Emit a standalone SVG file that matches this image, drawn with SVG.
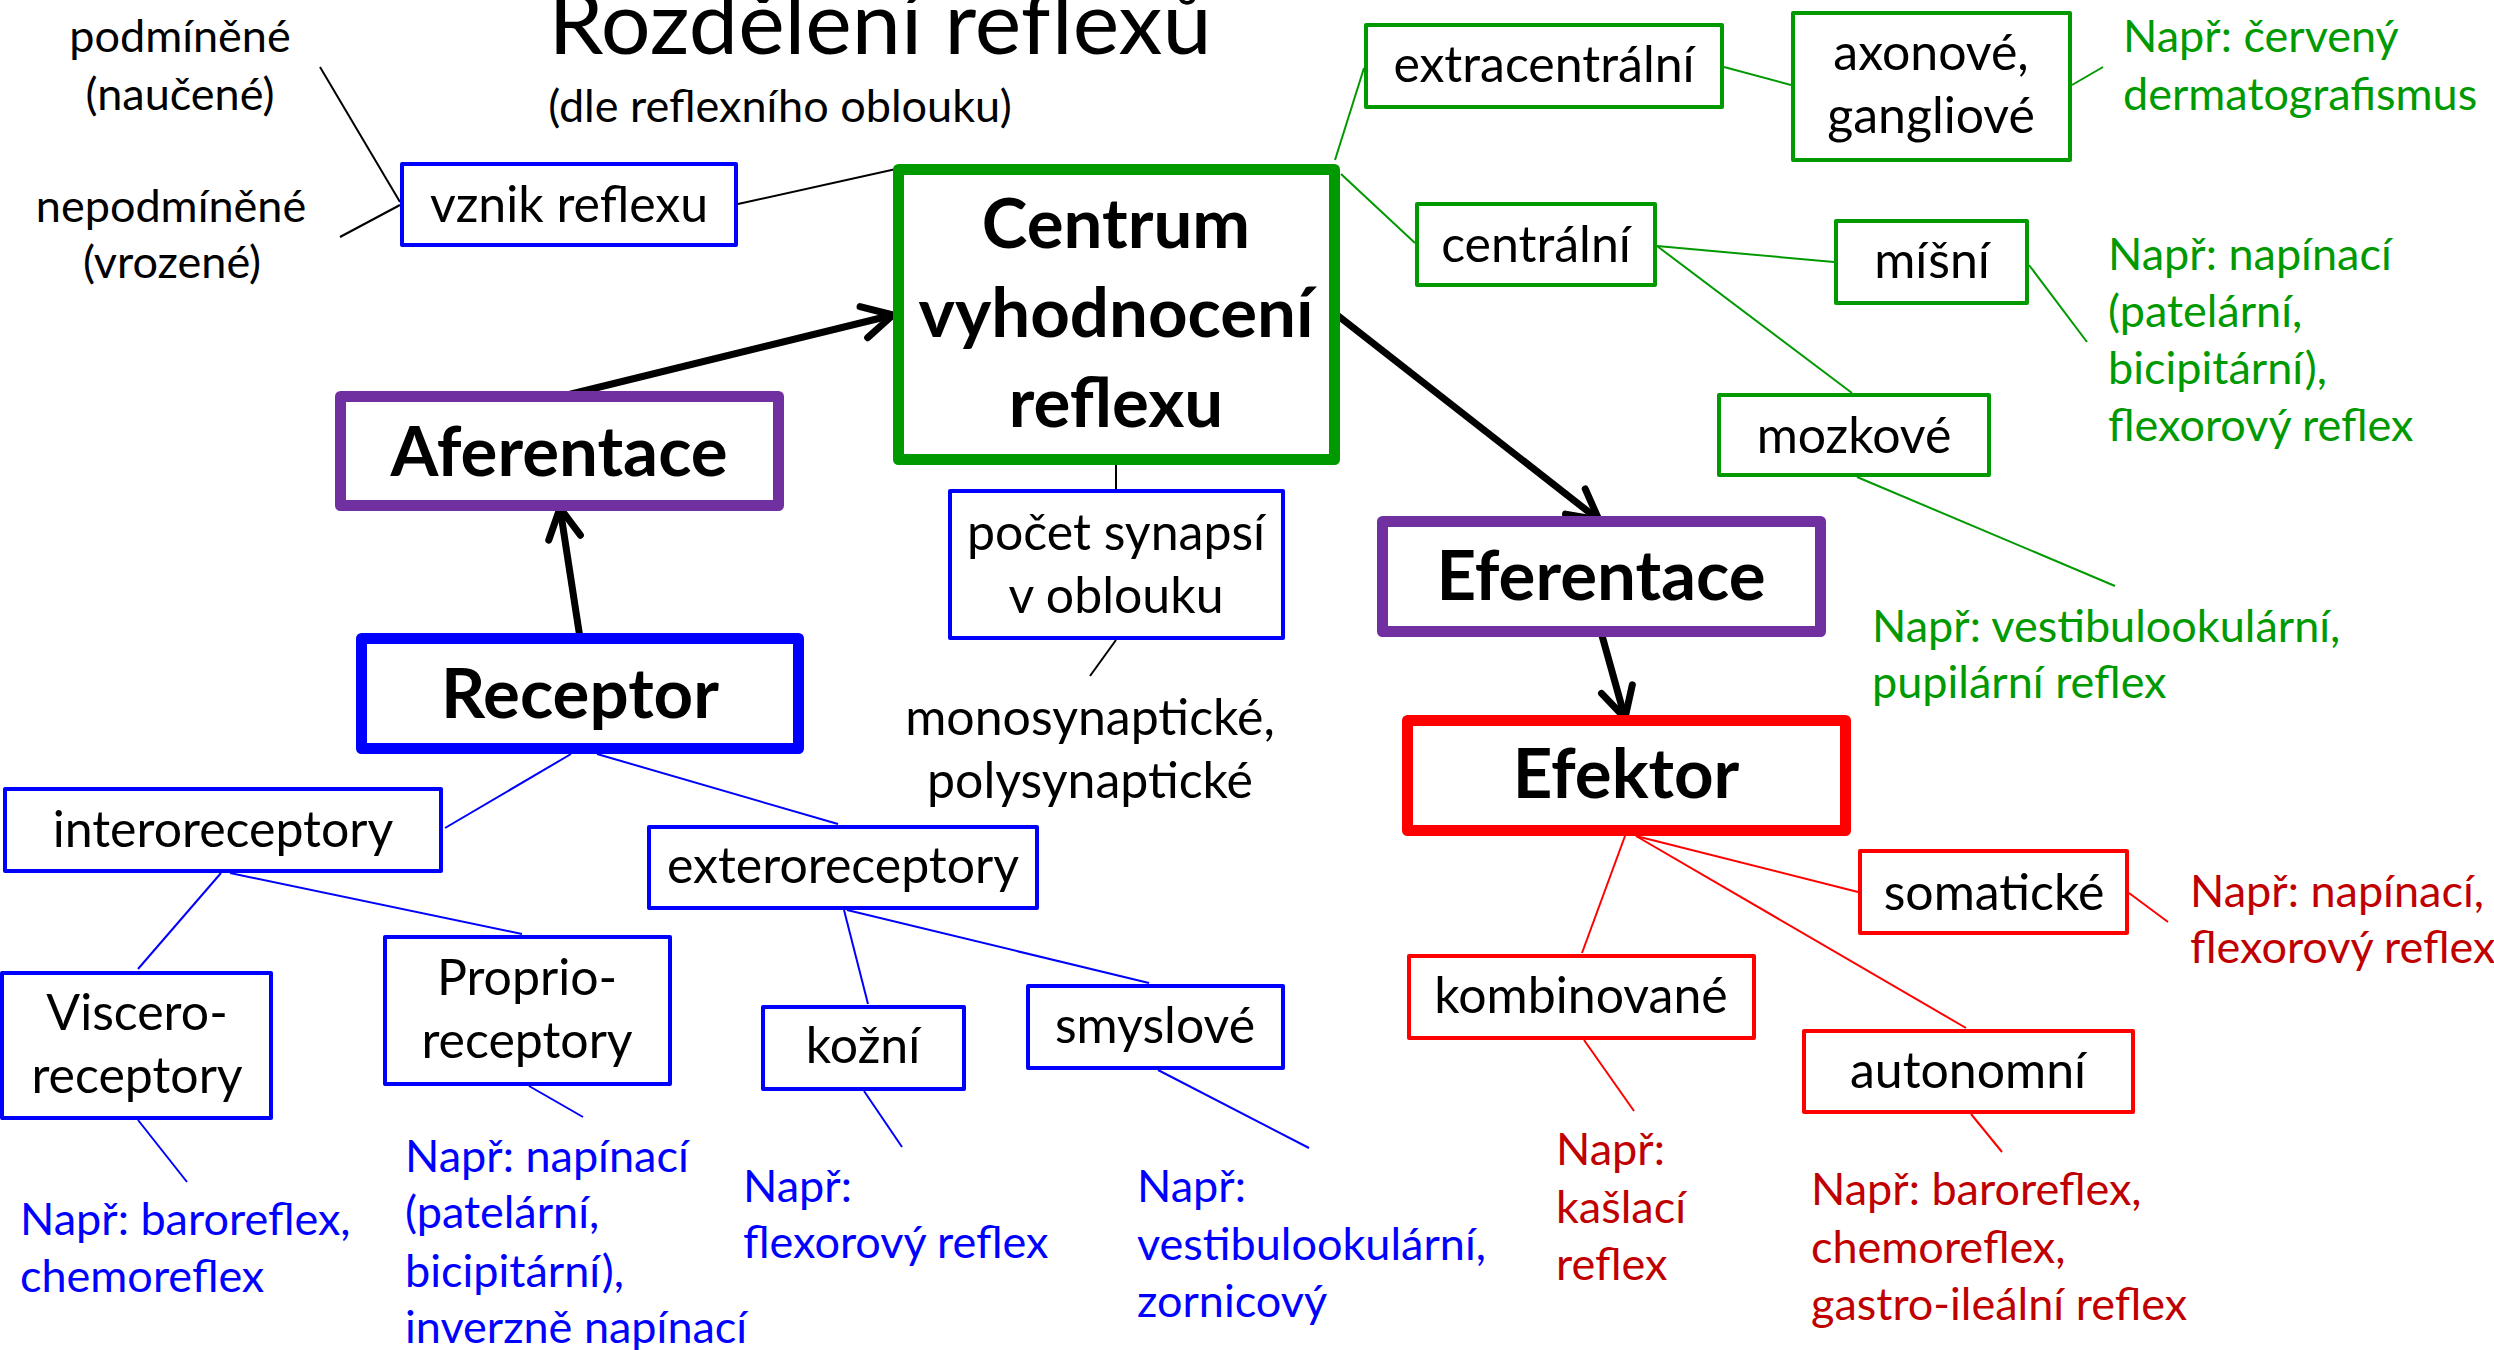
<svg xmlns="http://www.w3.org/2000/svg" width="2494" height="1350" viewBox="0 0 2494 1350">
<style>
text{font-family:Lato,"Liberation Sans",sans-serif;}
.t{font-size:50px;fill:#000;text-anchor:middle;}
.a{font-size:45px;}
.m{text-anchor:middle;}
.b{font-size:69px;font-weight:bold;fill:#000;text-anchor:middle;}
.g{fill:#009900;} .bl{fill:#0000FF;} .r{fill:#C00000;} .k{fill:#000;}
.bx{fill:#fff;stroke-width:4;stroke-linejoin:round;}
.hv{fill:#fff;stroke-width:11;stroke-linejoin:round;}
.sg{stroke:#009900;} .sb{stroke:#0000FF;} .sr{stroke:#FF0000;} .sp{stroke:#7030A0;}
.c line{stroke-width:2;}
.arr line{stroke:#000;stroke-width:7;marker-end:url(#ah);}
</style>
<defs>
<marker id="ah" markerUnits="userSpaceOnUse" viewBox="-40 -25 50 50" markerWidth="50" markerHeight="50" refX="0" refY="0" orient="auto" overflow="visible">
<path d="M-30,-16 L0,0 L-30,16" fill="none" stroke="#000" stroke-width="7" stroke-linecap="round" stroke-linejoin="round"/>
</marker>
</defs>
<rect width="2494" height="1350" fill="#fff"/>
<g id="title">
<text x="880" y="54" class="m" style="font-size:88px" fill="#000">Rozdělení reflexů</text>
<text x="780" y="122" class="a m k">(dle reflexního oblouku)</text>
</g>
<g id="labels-vznik">
<text x="180" y="52" class="a m k">podmíněné</text>
<text x="180" y="110" class="a m k">(naučené)</text>
<text x="171" y="222" class="a m k">nepodmíněné</text>
<text x="172" y="278" class="a m k">(vrozené)</text>
</g>
<g class="c" id="connectors">
<g stroke="#000">
<line x1="320" y1="67" x2="400" y2="202"/>
<line x1="400" y1="205" x2="340" y2="237"/>
<line x1="738" y1="204" x2="896" y2="169"/>
<line x1="1116" y1="465" x2="1116" y2="489"/>
<line x1="1116" y1="640" x2="1090" y2="676"/>
</g>
<g stroke="#009900">
<line x1="1335" y1="160" x2="1364" y2="68"/>
<line x1="1341" y1="174" x2="1415" y2="243"/>
<line x1="1724" y1="67" x2="1791" y2="85"/>
<line x1="2072" y1="85" x2="2103" y2="67"/>
<line x1="1657" y1="246" x2="1834" y2="262"/>
<line x1="1657" y1="246" x2="1852" y2="393"/>
<line x1="2029" y1="265" x2="2087" y2="342"/>
<line x1="1857" y1="477" x2="2115" y2="586"/>
</g>
<g stroke="#FF0000">
<line x1="1625" y1="836" x2="1582" y2="953"/>
<line x1="1636" y1="836" x2="1858" y2="892"/>
<line x1="1636" y1="836" x2="1966" y2="1028"/>
<line x1="1584" y1="1040" x2="1634" y2="1111"/>
<line x1="1971" y1="1114" x2="2002" y2="1152"/>
<line x1="2129" y1="893" x2="2168" y2="922"/>
</g>
<g stroke="#0000FF">
<line x1="571" y1="754" x2="445" y2="828"/>
<line x1="597" y1="754" x2="838" y2="824"/>
<line x1="221" y1="873" x2="138" y2="969"/>
<line x1="230" y1="873" x2="522" y2="934"/>
<line x1="138" y1="1120" x2="187" y2="1182"/>
<line x1="529" y1="1086" x2="583" y2="1117"/>
<line x1="844" y1="910" x2="868" y2="1004"/>
<line x1="847" y1="910" x2="1149" y2="983"/>
<line x1="864" y1="1091" x2="902" y2="1147"/>
<line x1="1158" y1="1070" x2="1309" y2="1148"/>
</g>
</g>
<g class="arr" id="arrows">
<line x1="559" y1="397" x2="893" y2="315"/>
<line x1="580" y1="638" x2="560" y2="508"/>
<line x1="1337" y1="315" x2="1599" y2="520"/>
<line x1="1601" y1="632" x2="1625" y2="718"/>
</g>
<g id="centrum"><rect x="898.5" y="169.5" width="436" height="290" class="hv sg"/>
<text x="1116" y="248" class="b">Centrum</text><text x="1116" y="337" class="b">vyhodnocení</text><text x="1116" y="427" class="b">reflexu</text></g>
<g id="aferentace"><rect x="340.5" y="396.5" width="438" height="109" class="hv sp"/><text x="559" y="476" class="b">Aferentace</text></g>
<g id="receptor"><rect x="361.5" y="638.5" width="437" height="110" class="hv sb"/><text x="580" y="718" class="b">Receptor</text></g>
<g id="eferentace"><rect x="1382.5" y="521.5" width="438" height="110" class="hv sp"/><text x="1601" y="600" class="b">Eferentace</text></g>
<g id="efektor"><rect x="1407.5" y="720.5" width="438" height="110" class="hv sr"/><text x="1626" y="798" class="b">Efektor</text></g>
<g id="vznik"><rect x="402" y="164" width="334" height="81" class="bx sb"/><text x="569" y="222" class="t">vznik reflexu</text></g>
<g id="pocet"><rect x="950" y="491" width="333" height="147" class="bx sb"/><text x="1116" y="550" class="t">počet synapsí</text><text x="1116" y="613" class="t">v oblouku</text></g>
<g id="mono"><text x="1090" y="735" class="t">monosynaptické,</text><text x="1090" y="798" class="t">polysynaptické</text></g>
<g id="extracentralni"><rect x="1366" y="25" width="356" height="82" class="bx sg"/><text x="1544" y="82" class="t">extracentrální</text></g>
<g id="centralni"><rect x="1417" y="204" width="238" height="81" class="bx sg"/><text x="1536" y="262" class="t">centrální</text></g>
<g id="axonove"><rect x="1793" y="13" width="277" height="147" class="bx sg"/><text x="1931" y="70" class="t">axonové,</text><text x="1931" y="133" class="t">gangliové</text></g>
<g id="misni"><rect x="1836" y="221" width="191" height="82" class="bx sg"/><text x="1932" y="278" class="t">míšní</text></g>
<g id="mozkove"><rect x="1719" y="395" width="270" height="80" class="bx sg"/><text x="1854" y="453" class="t">mozkové</text></g>
<g id="ex-axon"><text x="2123" y="52" class="a g">Např: červený</text><text x="2123" y="110" class="a g">dermatografismus</text></g>
<g id="ex-misni"><text x="2108" y="270" class="a g">Např: napínací</text><text x="2108" y="327" class="a g">(patelární,</text><text x="2108" y="384" class="a g">bicipitární),</text><text x="2108" y="441" class="a g">flexorový reflex</text></g>
<g id="ex-mozk"><text x="1872" y="642" class="a g">Např: vestibulookulární,</text><text x="1872" y="698" class="a g">pupilární reflex</text></g>
<g id="somaticke"><rect x="1860" y="851" width="267" height="82" class="bx sr"/><text x="1994" y="910" class="t">somatické</text></g>
<g id="kombinovane"><rect x="1409" y="956" width="345" height="82" class="bx sr"/><text x="1581" y="1013" class="t">kombinované</text></g>
<g id="autonomni"><rect x="1804" y="1031" width="329" height="81" class="bx sr"/><text x="1968" y="1088" class="t">autonomní</text></g>
<g id="ex-soma"><text x="2190" y="907" class="a r">Např: napínací,</text><text x="2190" y="963" class="a r">flexorový reflex</text></g>
<g id="ex-komb"><text x="1556" y="1165" class="a r">Např:</text><text x="1556" y="1223" class="a r">kašlací</text><text x="1556" y="1280" class="a r">reflex</text></g>
<g id="ex-auto"><text x="1811" y="1205" class="a r">Např: baroreflex,</text><text x="1811" y="1263" class="a r">chemoreflex,</text><text x="1811" y="1320" class="a r">gastro-ileální reflex</text></g>
<g id="intero"><rect x="5" y="789" width="436" height="82" class="bx sb"/><text x="223" y="847" class="t">interoreceptory</text></g>
<g id="viscero"><rect x="2" y="973" width="269" height="145" class="bx sb"/><text x="137" y="1030" class="t">Viscero-</text><text x="137" y="1093" class="t">receptory</text></g>
<g id="proprio"><rect x="385" y="937" width="285" height="147" class="bx sb"/><text x="527" y="995" class="t">Proprio-</text><text x="527" y="1058" class="t">receptory</text></g>
<g id="extero"><rect x="649" y="827" width="388" height="81" class="bx sb"/><text x="843" y="883" class="t">exteroreceptory</text></g>
<g id="kozni"><rect x="763" y="1007" width="201" height="82" class="bx sb"/><text x="863" y="1063" class="t">kožní</text></g>
<g id="smyslove"><rect x="1028" y="986" width="255" height="82" class="bx sb"/><text x="1155" y="1043" class="t">smyslové</text></g>
<g id="ex-visc"><text x="20" y="1235" class="a bl">Např: baroreflex,</text><text x="20" y="1292" class="a bl">chemoreflex</text></g>
<g id="ex-prop"><text x="405" y="1172" class="a bl">Např: napínací</text><text x="405" y="1228" class="a bl">(patelární,</text><text x="405" y="1287" class="a bl">bicipitární),</text><text x="405" y="1343" class="a bl">inverzně napínací</text></g>
<g id="ex-kozni"><text x="743" y="1202" class="a bl">Např:</text><text x="743" y="1258" class="a bl">flexorový reflex</text></g>
<g id="ex-smysl"><text x="1137" y="1202" class="a bl">Např:</text><text x="1137" y="1260" class="a bl">vestibulookulární,</text><text x="1137" y="1317" class="a bl">zornicový</text></g>
</svg>
